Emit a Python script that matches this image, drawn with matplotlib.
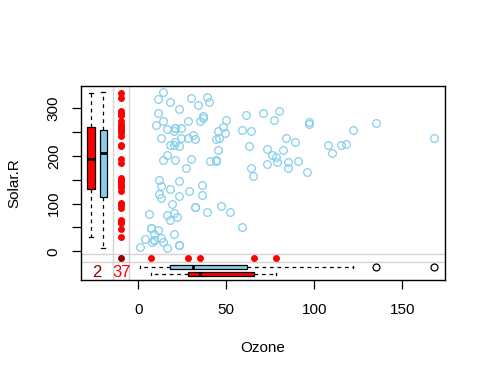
import matplotlib
matplotlib.use('Agg')
import matplotlib.pyplot as plt
import numpy as np

plt.rcParams['font.family'] = ['Liberation Sans', 'DejaVu Sans']

nan = np.nan

# airquality: Ozone and Solar.R (NA -> nan)
ozone = [41, 36, 12, 18, nan, 28, 23, 19, 8, nan, 7, 16, 11, 14, 18, 14, 34, 6, 30, 11,
         1, 11, 4, 32, nan, nan, nan, 23, 45, 115, 37, nan, nan, nan, nan, nan, nan, 29, nan, 71,
         39, nan, nan, 23, nan, nan, 21, 37, 20, 12, 13, nan, nan, nan, nan, nan, nan, nan, nan, nan,
         nan, 135, 49, 32, nan, 64, 40, 77, 97, 97, 85, nan, 10, 27, nan, 7, 48, 35, 61, 79,
         63, 16, nan, nan, 80, 108, 20, 52, 82, 50, 64, 59, 39, 9, 16, 78, 35, 66, 122, 89,
         110, nan, nan, 44, 28, 65, nan, 22, 59, 23, 31, 44, 21, 9, nan, 45, 168, 73, nan, 76,
         118, 84, 85, 96, 78, 73, 91, 47, 32, 20, 23, 21, 24, 44, 21, 28, 9, 13, 46, 18,
         13, 24, 16, 13, 23, 36, 7, 14, 30, nan, 14, 18, 20]
solar = [190, 118, 149, 313, nan, nan, 299, 99, 19, 194, nan, 256, 290, 274, 65, 334, 307, 78, 322, 44,
         8, 320, 25, 92, 66, 266, nan, 13, 252, 223, 279, 286, 287, 242, 186, 220, 264, 127, 273, 291,
         323, 259, 250, 148, 332, 322, 191, 284, 37, 120, 137, 150, 59, 91, 250, 135, 127, 47, 98, 31,
         138, 269, 248, 236, 101, 175, 314, 276, 267, 272, 175, 139, 264, 175, 291, 48, 260, 274, 285, 187,
         220, 7, 258, 295, 294, 223, 81, 82, 213, 275, 253, 254, 83, 24, 77, nan, nan, nan, 255, 229,
         207, 222, 137, 192, 273, 157, 64, 71, 51, 115, 244, 190, 259, 36, 255, 212, 238, 215, 153, 203,
         225, 237, 188, 167, 197, 183, 189, 95, 92, 252, 220, 230, 259, 236, 259, 238, 24, 112, 237, 224,
         27, 238, 201, 238, 14, 139, 49, 20, 193, 145, 191, 131, 223]

x_ticks = [0, 50, 100, 150]
y_ticks = [0, 50, 100, 150, 200, 250, 300]
y_ticklabels = ['0', '', '100', '', '200', '', '300']

ozone = np.array(ozone, dtype=float)
solar = np.array(solar, dtype=float)
oz_na = np.isnan(ozone)
so_na = np.isnan(solar)
both = ~oz_na & ~so_na

# margin positions (data units)
X_MISS = -9.7      # column of y values where x is missing
Y_MISS = -14.0     # row of x values where y is missing

fig = plt.figure(figsize=(4.87, 3.87), dpi=100)
ax = fig.add_axes([81 / 487, 1 - 280 / 387, 364 / 487, 194 / 387])

# grey separator lines
for xv in (-14.2, -5.3):
    ax.axvline(xv, color='#d3d3d3', lw=1, zorder=0)
for yv in (-5.7, -23.1):
    ax.axhline(yv, color='#d3d3d3', lw=1, zorder=0)

# complete cases
ax.plot(ozone[both], solar[both], 'o', mfc='none', mec='skyblue', ms=5.5, mew=0.9, zorder=2)

# missing-in-one values on the margins
ax.plot(np.full((oz_na & ~so_na).sum(), X_MISS), solar[oz_na & ~so_na], 'o',
        color='red', ms=5, mew=0, zorder=3)
ax.plot(ozone[so_na & ~oz_na], np.full((so_na & ~oz_na).sum(), Y_MISS), 'o',
        color='red', ms=5, mew=0, zorder=3)
ax.plot([X_MISS], [Y_MISS], 'o', color='darkred', ms=5, mew=0, zorder=3)

box_kw = dict(patch_artist=True, manage_ticks=False,
              medianprops=dict(color='black', lw=2),
              whiskerprops=dict(color='black', lw=0.9, linestyle=(0, (3, 3))),
              capprops=dict(color='black', lw=0.9),
              boxprops=dict(edgecolor='black', lw=0.9),
              flierprops=dict(marker='o', mfc='none', mec='black', ms=5, mew=0.9))

# left boxplots: Solar.R split by Ozone missing / observed
bl = ax.boxplot([solar[oz_na & ~so_na], solar[~oz_na & ~so_na]],
                positions=[-27.0, -19.9], widths=4.2, **box_kw)
for patch, c in zip(bl['boxes'], ['red', 'skyblue']):
    patch.set_facecolor(c)

# bottom boxplots: Ozone split by Solar.R observed / missing
bb = ax.boxplot([ozone[~so_na & ~oz_na], ozone[so_na & ~oz_na]],
                positions=[-33.6, -48.3], widths=8.5, orientation='horizontal', **box_kw)
for patch, c in zip(bb['boxes'], ['skyblue', 'red']):
    patch.set_facecolor(c)

# counts of missing values
ax.text(-23.6, -45, str((oz_na & so_na).sum()), color='darkred', fontsize=12,
        ha='center', va='center')
ax.text(X_MISS, -45, str(oz_na.sum()), color='red', fontsize=12,
        ha='center', va='center')

ax.set_xlim(-32.6, 174.3)
ax.set_ylim(-60.2, 346.8)
ax.set_xticks(x_ticks)
ax.set_yticks(y_ticks)
ax.set_yticklabels(y_ticklabels, rotation=90, va='center')
ax.tick_params(axis='both', length=6.5, width=0.9, labelsize=11)
ax.tick_params(axis='x', pad=10)
ax.tick_params(axis='y', pad=8)
for s in ax.spines.values():
    s.set_linewidth(1)

ax.set_xlabel('Ozone', fontsize=11)
ax.set_ylabel('Solar.R', fontsize=11)
ax.xaxis.set_label_coords(0.5, -0.315)
ax.yaxis.set_label_coords(-0.165, 0.5)

fig.savefig('out.png', dpi=100)
